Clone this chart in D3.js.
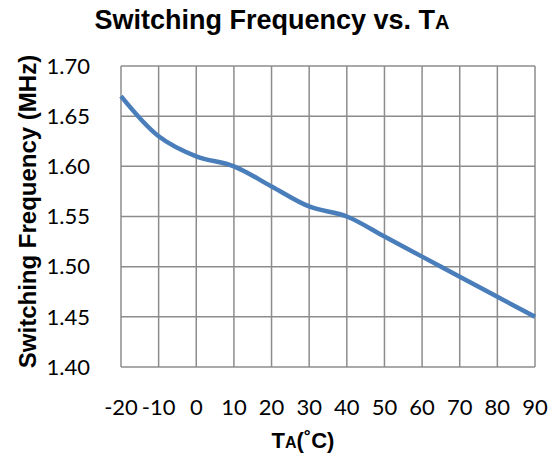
<!DOCTYPE html>
<html lang="en">
<head>
    <meta charset="UTF-8">
    <title>Switching Frequency vs. TA</title>
    <script src="https://d3js.org/d3.v7.min.js"></script>
    <style>
        body { margin: 0; background: #fff; }
        svg { display: block; }
        .tick-label { font-family: Lato, "Open Sans", sans-serif; font-size: 22px; fill: #000; }
        .bold-label { font-family: "Liberation Sans", Arial, sans-serif; font-weight: bold; fill: #000; }
    </style>
</head>
<body>
    <div id="chart"></div>
    <script>
        // Data
        const temps = [-20, -10, 0, 10, 20, 30, 40, 50, 60, 70, 80, 90];
        const freq = [1.67, 1.63, 1.61, 1.60, 1.58, 1.56, 1.55, 1.53, 1.51, 1.49, 1.47, 1.45];
        const yTicks = [1.40, 1.45, 1.50, 1.55, 1.60, 1.65, 1.70];

        const width = 559, height = 464;
        const margin = {top: 66, right: 24, bottom: 97, left: 121};

        const svg = d3.select("#chart")
            .append("svg")
            .attr("width", width)
            .attr("height", height);

        const x = d3.scalePoint()
            .domain(temps)
            .range([margin.left, width - margin.right]);

        const y = d3.scaleLinear()
            .domain([1.40, 1.70])
            .range([height - margin.bottom, margin.top]);

        // Grid
        svg.append("g")
            .selectAll("line")
            .data(temps)
            .enter()
            .append("line")
            .attr("x1", d => x(d)).attr("x2", d => x(d))
            .attr("y1", y(1.70)).attr("y2", y(1.40))
            .attr("stroke", "#8c8c8c")
            .attr("stroke-width", 1.5);

        svg.append("g")
            .selectAll("line")
            .data(yTicks)
            .enter()
            .append("line")
            .attr("x1", x(-20)).attr("x2", x(90))
            .attr("y1", d => y(d)).attr("y2", d => y(d))
            .attr("stroke", "#8c8c8c")
            .attr("stroke-width", 1.5);

        // Y tick labels
        svg.append("g")
            .selectAll("text")
            .data(yTicks)
            .enter()
            .append("text")
            .attr("class", "tick-label")
            .attr("x", 90)
            .attr("y", d => y(d))
            .attr("dy", "0.35em")
            .attr("text-anchor", "end")
            .text(d => d3.format(".2f")(d));

        // X tick labels
        svg.append("g")
            .selectAll("text")
            .data(temps)
            .enter()
            .append("text")
            .attr("class", "tick-label")
            .attr("x", d => x(d))
            .attr("y", 415)
            .attr("text-anchor", "middle")
            .text(d => d);

        // Line
        const line = d3.line()
            .x((d, i) => x(temps[i]))
            .y(d => y(d))
            .curve(d3.curveCatmullRom.alpha(0.5));

        svg.append("path")
            .datum(freq)
            .attr("fill", "none")
            .attr("stroke", "#4a7ebb")
            .attr("stroke-width", 4.5)
            .attr("stroke-linecap", "butt")
            .attr("d", line);

        // Title
        const title = svg.append("text")
            .attr("class", "bold-label")
            .attr("x", 272)
            .attr("y", 29)
            .attr("text-anchor", "middle")
            .style("font-size", "27px");
        title.append("tspan").text("Switching Frequency vs. T");
        title.append("tspan").style("font-size", "20px").text("A");

        // X axis title
        const xTitle = svg.append("text")
            .attr("class", "bold-label")
            .attr("x", 303)
            .attr("y", 448)
            .attr("text-anchor", "middle")
            .style("font-size", "22px");
        xTitle.append("tspan").text("T");
        xTitle.append("tspan").style("font-size", "16px").text("A");
        xTitle.append("tspan").text("(˚C)");

        // Y axis title
        svg.append("text")
            .attr("class", "bold-label")
            .attr("transform", `translate(36,${(y(1.40) + y(1.70)) / 2 - 5}) rotate(-90)`)
            .attr("text-anchor", "middle")
            .style("font-size", "24px")
            .text("Switching Frequency (MHz)");
    </script>
</body>
</html>
